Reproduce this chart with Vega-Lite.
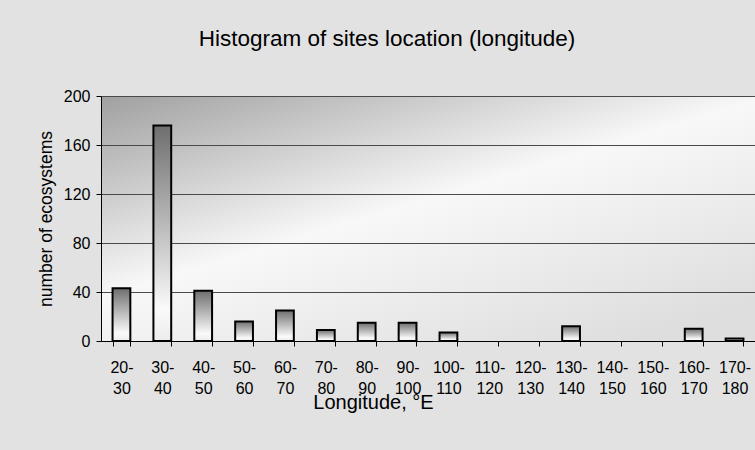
{
  "$schema": "https://vega.github.io/schema/vega-lite/v6.json",
  "autosize": {"type": "none"},
  "padding": {"left": 101, "top": 96, "right": 0, "bottom": 109},
  "width": 654,
  "height": 245,
  "background": "#e2e2e2",
  "config": {
    "font": "Liberation Sans",
    "view": {
      "stroke": null,
      "fill": {
        "gradient": "linear",
        "x1": 0, "y1": 0, "x2": 0.8, "y2": 1,
        "stops": [
          {"offset": 0, "color": "#a0a0a0"},
          {"offset": 0.5, "color": "#f8f8f8"},
          {"offset": 1, "color": "#dedede"}
        ]
      }
    }
  },
  "title": {
    "text": "Histogram of sites location (longitude)",
    "fontSize": 22.5,
    "fontWeight": "normal",
    "color": "#000000",
    "anchor": "middle",
    "dx": -41,
    "baseline": "alphabetic",
    "offset": 20
  },
  "data": {
    "values": [
      {"range": "20-30", "count": 43},
      {"range": "30-40", "count": 176},
      {"range": "40-50", "count": 41},
      {"range": "50-60", "count": 16},
      {"range": "60-70", "count": 25},
      {"range": "70-80", "count": 9},
      {"range": "80-90", "count": 15},
      {"range": "90-100", "count": 15},
      {"range": "100-110", "count": 7},
      {"range": "110-120", "count": 0},
      {"range": "120-130", "count": 0},
      {"range": "130-140", "count": 12},
      {"range": "140-150", "count": 0},
      {"range": "150-160", "count": 0},
      {"range": "160-170", "count": 10},
      {"range": "170-180", "count": 2}
    ]
  },
  "mark": {
    "type": "bar",
    "stroke": "#000000",
    "strokeWidth": 2,
    "fill": {
      "gradient": "linear",
      "x1": 0, "y1": 0, "x2": 0, "y2": 1,
      "stops": [
        {"offset": 0, "color": "#6e6e6e"},
        {"offset": 0.85, "color": "#fafafa"},
        {"offset": 1, "color": "#ececec"}
      ]
    }
  },
  "encoding": {
    "x": {
      "field": "range",
      "type": "nominal",
      "sort": null,
      "scale": {"paddingInner": 0.565, "paddingOuter": 0.2825},
      "axis": {
        "title": "Longitude, °E",
        "titleFontSize": 20,
        "titleFontWeight": "normal",
        "titleColor": "#000000",
        "titleX": 272,
        "titleY": 67,
        "titleAlign": "center",
        "titleBaseline": "alphabetic",
        "labelAngle": 0,
        "labelFontSize": 16,
        "labelColor": "#000000",
        "labelLineHeight": 21,
        "labelPadding": 13,
        "labelOverlap": false,
        "labelBound": false,
        "labelExpr": "datum.value ? [split(datum.value, '-')[0] + '-', split(datum.value, '-')[1]] : ''",
        "tickColor": "#000000",
        "tickSize": 5,
        "tickBand": "extent",
        "domainColor": "#000000",
        "domainWidth": 1
      }
    },
    "y": {
      "field": "count",
      "type": "quantitative",
      "scale": {"domain": [0, 200], "nice": false},
      "axis": {
        "title": "number of ecosystems",
        "titleFontSize": 17.5,
        "titleFontWeight": "normal",
        "titleColor": "#000000",
        "titlePadding": 8,
        "values": [0, 40, 80, 120, 160, 200],
        "labelFontSize": 16,
        "labelColor": "#000000",
        "labelPadding": 6,
        "tickColor": "#000000",
        "tickSize": 5,
        "domainColor": "#000000",
        "grid": true,
        "gridColor": "#4a4a4a",
        "gridWidth": 1
      }
    },
    "strokeOpacity": {
      "condition": {"test": "datum.count == 0", "value": 0},
      "value": 1
    }
  }
}
